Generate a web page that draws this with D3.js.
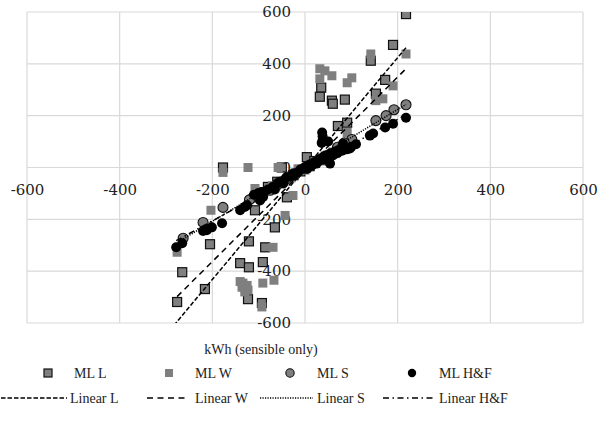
<!DOCTYPE html>
<html>
<head>
<meta charset="utf-8">
<script src="https://cdn.jsdelivr.net/npm/d3@7"></script>
<style>
  html, body { margin: 0; padding: 0; background: #fff; }
  svg { display: block; }
</style>
</head>
<body>
<svg id="chart" width="600" height="423"></svg>
<script>
// Measured vs. modelled energy, kWh (sensible only)
const xTicks = [-600, -400, -200, 0, 200, 400, 600];
const yTicks = [-600, -400, -200, 0, 200, 400, 600];

const mlL = [
  [218, 592], [190, 473], [142, 412], [173, 338], [153, 285], [86, 262],
  [35, 308], [32, 273], [58, 258], [60, 246], [91, 173], [71, 160],
  [4, 40], [-50, 0], [-177, 0], [-39, -115], [-108, -165], [-65, -231],
  [-121, -285], [-205, -296], [-86, -308], [-91, -365], [-140, -369],
  [-121, -385], [-265, -404], [-216, -469], [-276, -519], [-123, -508],
  [-93, -523], [-80, -75], [-60, -55], [-25, -30], [-10, -15], [10, 5],
  [20, 25], [35, 30], [50, 45], [-100, -95]
];
const mlW = [
  [142, 438], [218, 438], [32, 381], [43, 373], [58, 354], [101, 346],
  [91, 327], [32, 342], [190, 315], [168, 265], [153, 258], [91, 135],
  [-177, -19], [-123, 0], [-58, 0], [-108, -81], [-26, -108], [-203, -165],
  [-43, -185], [-276, -327], [-69, -308], [-134, -446], [-123, -473],
  [-91, -446], [-67, -435], [-93, -538], [-136, -462], [-130, -480],
  [-125, -455], [-140, -440], [-70, -70], [-30, -40], [0, -10], [20, 15],
  [40, 25], [60, 60], [80, 70], [-15, -5]
];
const mlS = [
  [218, 242], [192, 223], [175, 200], [153, 181], [101, 108], [85, 95],
  [70, 78], [50, 48], [30, 28], [15, 12], [0, -3], [-20, -25], [-40, -45],
  [-60, -68], [-75, -88], [-91, -108], [-112, -115], [-120, -125],
  [-177, -154], [-220, -212], [-263, -273]
];
const mlHF = [
  [218, 192], [190, 169], [173, 154], [147, 131], [140, 123], [110, 90],
  [100, 80], [97, 73], [90, 70], [85, 75], [82, 92], [80, 65], [75, 70],
  [70, 55], [65, 62], [60, 46], [60, 48], [55, 55], [54, 15], [50, 40],
  [50, 100], [45, 45], [40, 30], [39, 104], [38, 120], [37, 135], [36, 95],
  [35, 35], [30, 28], [25, 15], [20, 20], [15, 8], [10, 12], [5, -5], [0, 2],
  [-5, -5], [-10, -8], [-15, -18], [-25, -22], [-30, -35], [-40, -38],
  [-45, -48], [-47, -62], [-55, -55], [-60, -62], [-65, -85], [-70, -75],
  [-80, -85], [-90, -95], [-91, -115], [-97, -127], [-100, -98],
  [-110, -105], [-125, -146], [-130, -152], [-140, -165], [-179, -215],
  [-201, -231], [-212, -242], [-220, -245], [-265, -292], [-278, -308]
];

// Linear trend lines: [slope, intercept, xFrom, xTo]
const trendL = [2.14, -4, -283, 218];
const trendW = [1.78, -7, -276, 218];
const trendS = [1.08, 8, -263, 218];
const trendHF = [0.98, -10, -278, 218];

const svg = d3.select("#chart");
const plot = { left: 27, right: 583, top: 12, bottom: 323 };

const x = d3.scaleLinear().domain([-600, 600]).range([plot.left, plot.right]);
const y = d3.scaleLinear().domain([-600, 600]).range([plot.bottom, plot.top]);

const gridColor = "#d9d9d9";
const textColor = "#222";
const tickFont = "'DejaVu Serif', serif";
const legendFont = "'Liberation Serif', 'Times New Roman', serif";

// dash patterns shared by the plot and the legend
const dashL = "4.5,2", dashW = "6,4.5", dashS = "1.2,1.3", dashHF = "6,3.5,1.5,3.5";

// gridlines
const grid = svg.append("g");
grid.selectAll("line.v").data(xTicks).join("line")
  .attr("x1", d => x(d)).attr("x2", d => x(d))
  .attr("y1", plot.top).attr("y2", plot.bottom)
  .attr("stroke", gridColor).attr("stroke-width", 1.2);
grid.selectAll("line.h").data(yTicks).join("line")
  .attr("x1", plot.left).attr("x2", plot.right)
  .attr("y1", d => y(d)).attr("y2", d => y(d))
  .attr("stroke", gridColor).attr("stroke-width", 1.2);

// axes crossing at zero
const xAxis = svg.append("g")
  .attr("transform", `translate(0,${y(0)})`)
  .call(d3.axisBottom(x).tickValues(xTicks).tickSize(0).tickPadding(17));
const yAxis = svg.append("g")
  .attr("transform", `translate(${x(0)},0)`)
  .call(d3.axisLeft(y).tickValues(yTicks).tickSize(0).tickPadding(14));
[xAxis, yAxis].forEach(a => {
  a.select(".domain").remove();
  a.selectAll("text")
    .attr("fill", textColor)
    .style("font-family", tickFont)
    .style("font-size", "15px")
    .text(d => String(d));
});

svg.append("clipPath").attr("id", "plotClip")
  .append("rect").attr("x", plot.left).attr("y", plot.top)
  .attr("width", plot.right - plot.left).attr("height", plot.bottom - plot.top);

const marks = svg.append("g").attr("clip-path", "url(#plotClip)");

// markers
const sq = 9;
marks.append("g").selectAll("rect").data(mlL).join("rect")
  .attr("x", d => x(d[0]) - sq / 2).attr("y", d => y(d[1]) - sq / 2)
  .attr("width", sq).attr("height", sq)
  .attr("fill", "#7f7f7f").attr("stroke", "#111").attr("stroke-width", 1.2);
marks.append("g").selectAll("rect").data(mlW).join("rect")
  .attr("x", d => x(d[0]) - sq / 2).attr("y", d => y(d[1]) - sq / 2)
  .attr("width", sq).attr("height", sq)
  .attr("fill", "#7f7f7f");
marks.append("g").selectAll("circle").data(mlS).join("circle")
  .attr("cx", d => x(d[0])).attr("cy", d => y(d[1])).attr("r", 5)
  .attr("fill", "#7f7f7f").attr("stroke", "#111").attr("stroke-width", 1.1);
marks.append("g").selectAll("circle").data(mlHF).join("circle")
  .attr("cx", d => x(d[0])).attr("cy", d => y(d[1])).attr("r", 5)
  .attr("fill", "#000");

// trend lines
const trendStyles = [
  { t: trendL, dash: dashL },
  { t: trendW, dash: dashW },
  { t: trendS, dash: dashS },
  { t: trendHF, dash: dashHF }
];
marks.append("g").selectAll("line").data(trendStyles).join("line")
  .attr("x1", d => x(d.t[2])).attr("y1", d => y(d.t[0] * d.t[2] + d.t[1]))
  .attr("x2", d => x(d.t[3])).attr("y2", d => y(d.t[0] * d.t[3] + d.t[1]))
  .attr("stroke", "#000").attr("stroke-width", 1.5)
  .attr("stroke-dasharray", d => d.dash);

// axis title
svg.append("text")
  .attr("x", 261).attr("y", 354)
  .attr("text-anchor", "middle")
  .attr("fill", textColor)
  .style("font-family", legendFont).style("font-size", "14px")
  .text("kWh (sensible only)");

// legend
const legend = svg.append("g")
  .style("font-family", legendFont).style("font-size", "14px").attr("fill", textColor);

const row1 = 373, row2 = 398;
const markerItems = [
  { label: "ML L", mx: 48, tx: 74, kind: "sqB" },
  { label: "ML W", mx: 169, tx: 195, kind: "sq" },
  { label: "ML S", mx: 290, tx: 317, kind: "ci" },
  { label: "ML H&F", mx: 412, tx: 439, kind: "dot" }
];
markerItems.forEach(it => {
  if (it.kind === "sqB" || it.kind === "sq") {
    const s = 8;
    legend.append("rect")
      .attr("x", it.mx - s / 2).attr("y", row1 - s / 2).attr("width", s).attr("height", s)
      .attr("fill", "#7f7f7f")
      .attr("stroke", it.kind === "sqB" ? "#111" : "none").attr("stroke-width", 1.2);
  } else {
    legend.append("circle").attr("cx", it.mx).attr("cy", row1).attr("r", 4.2)
      .attr("fill", it.kind === "ci" ? "#7f7f7f" : "#000")
      .attr("stroke", it.kind === "ci" ? "#111" : "none").attr("stroke-width", 1.1);
  }
  legend.append("text").attr("x", it.tx).attr("y", row1 + 4.5).text(it.label);
});

const lineItems = [
  { label: "Linear L", x1: 1, x2: 67, tx: 70, dash: dashL },
  { label: "Linear W", x1: 147, x2: 189, tx: 195, dash: dashW },
  { label: "Linear S", x1: 260, x2: 313, tx: 317, dash: dashS },
  { label: "Linear H&F", x1: 383, x2: 436, tx: 439, dash: dashHF }
];
lineItems.forEach(it => {
  legend.append("line").attr("x1", it.x1).attr("x2", it.x2)
    .attr("y1", row2).attr("y2", row2)
    .attr("stroke", "#000").attr("stroke-width", 1.3)
    .attr("stroke-dasharray", it.dash);
  legend.append("text").attr("x", it.tx).attr("y", row2 + 4.5).text(it.label);
});
</script>
</body>
</html>
